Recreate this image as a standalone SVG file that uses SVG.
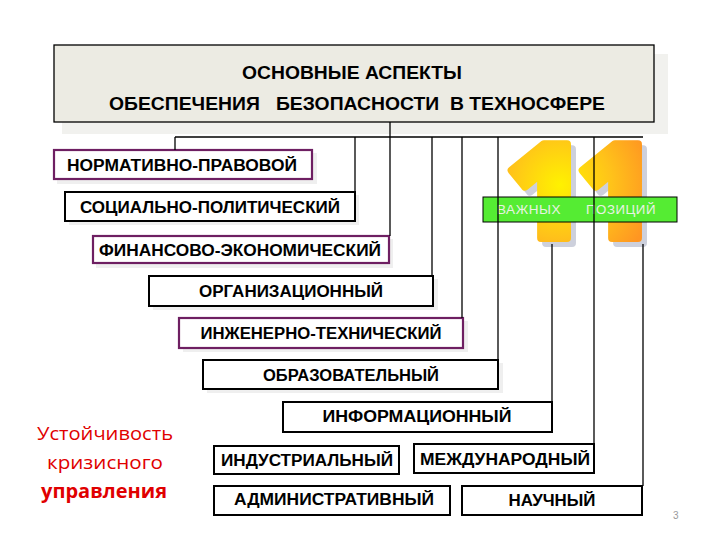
<svg xmlns="http://www.w3.org/2000/svg" width="720" height="540" viewBox="0 0 720 540">
<defs>
<radialGradient id="og" gradientUnits="userSpaceOnUse" cx="560" cy="185" r="95">
<stop offset="0" stop-color="#fff200"/>
<stop offset="0.55" stop-color="#ffc21a"/>
<stop offset="1" stop-color="#ff9522"/>
</radialGradient>
<style>
.box{fill:#ffffff;stroke:#000;stroke-width:2}
.pbox{fill:#ffffff;stroke:#6e1f62;stroke-width:2.2}
.sh{fill:#efefef}
.lbl{font-family:"Liberation Sans",Arial,sans-serif;font-weight:bold;font-size:16px;fill:#000;text-anchor:middle}
.ttl{font-family:"Liberation Sans",Arial,sans-serif;font-weight:bold;font-size:19px;fill:#000;text-anchor:middle}
.red{font-family:"Open Sans","Liberation Sans",sans-serif;font-size:19px;fill:#e00000;text-anchor:middle}
.con{stroke:#000;stroke-width:1.3;fill:none}
.one{font-family:"Open Sans","Liberation Sans",sans-serif;font-weight:800;font-size:132px;text-anchor:middle;stroke-width:8;stroke-linejoin:round}
.gt{font-family:"Liberation Sans",Arial,sans-serif;font-size:12.5px;fill:#e8f2e4;letter-spacing:0.5px}
</style>
</defs>
<rect width="720" height="540" fill="#ffffff"/>

<g id="title">
<rect x="62" y="54" width="606" height="80" fill="#f1f1ee"/>
<rect x="54" y="45" width="600" height="77" fill="#ecebe3" stroke="#000" stroke-width="1.3"/>
<text class="ttl" x="352" y="79" textLength="220" lengthAdjust="spacingAndGlyphs">ОСНОВНЫЕ АСПЕКТЫ</text>
<text class="ttl" x="357" y="110" textLength="496" lengthAdjust="spacingAndGlyphs" xml:space="preserve">ОБЕСПЕЧЕНИЯ   БЕЗОПАСНОСТИ  В ТЕХНОСФЕРЕ</text>
</g>

<g id="eleven">
<text class="one" x="550" y="243" fill="#cdd0dc" stroke="#cdd0dc">1</text>
<text class="one" x="621" y="243" fill="#cdd0dc" stroke="#cdd0dc">1</text>
<text class="one" x="545" y="238" fill="url(#og)" stroke="url(#og)">1</text>
<text class="one" x="616" y="238" fill="url(#og)" stroke="url(#og)">1</text>
</g>

<g id="banner">
<rect x="483" y="197" width="194" height="25" fill="#55ec33" stroke="#000" stroke-width="1"/>
<text class="gt" x="497" y="214" textLength="64" lengthAdjust="spacingAndGlyphs">ВАЖНЫХ</text>
<text class="gt" x="586" y="214" textLength="70" lengthAdjust="spacingAndGlyphs">ПОЗИЦИЙ</text>
</g>

<g id="n1">
<rect class="sh" x="57" y="153" width="260" height="31"/>
<rect class="pbox" x="54" y="150" width="258" height="29"/>
<text class="lbl" x="182" y="171" textLength="230" lengthAdjust="spacingAndGlyphs">НОРМАТИВНО-ПРАВОВОЙ</text>
</g>
<g id="n2">
<rect class="sh" x="69" y="195" width="290" height="30"/>
<rect class="box" x="65" y="192" width="290" height="29"/>
<text class="lbl" x="210" y="213" textLength="260" lengthAdjust="spacingAndGlyphs">СОЦИАЛЬНО-ПОЛИТИЧЕСКИЙ</text>
</g>
<g id="n3">
<rect class="sh" x="96" y="239" width="297" height="29"/>
<rect class="pbox" x="93" y="236" width="296" height="27"/>
<text class="lbl" x="240" y="256" textLength="282" lengthAdjust="spacingAndGlyphs">ФИНАНСОВО-ЭКОНОМИЧЕСКИЙ</text>
</g>
<g id="n4">
<rect class="sh" x="153" y="279" width="285" height="31"/>
<rect class="box" x="149" y="276" width="284" height="30"/>
<text class="lbl" x="291" y="297" textLength="184" lengthAdjust="spacingAndGlyphs">ОРГАНИЗАЦИОННЫЙ</text>
</g>
<g id="n5">
<rect class="sh" x="183" y="321" width="285" height="31"/>
<rect class="pbox" x="179" y="318" width="284" height="30"/>
<text class="lbl" x="321" y="339" textLength="241" lengthAdjust="spacingAndGlyphs">ИНЖЕНЕРНО-ТЕХНИЧЕСКИЙ</text>
</g>
<g id="n6">
<rect class="sh" x="207" y="363" width="296" height="30"/>
<rect class="box" x="203" y="360" width="295" height="29"/>
<text class="lbl" x="351" y="381" textLength="176" lengthAdjust="spacingAndGlyphs">ОБРАЗОВАТЕЛЬНЫЙ</text>
</g>
<g id="n7">
<rect class="box" x="283" y="402" width="269" height="30"/>
<text class="lbl" x="417" y="422" textLength="189" lengthAdjust="spacingAndGlyphs">ИНФОРМАЦИОННЫЙ</text>
</g>
<g id="n8">
<rect class="box" x="214" y="446" width="185" height="28"/>
<text class="lbl" x="307" y="466" textLength="172" lengthAdjust="spacingAndGlyphs">ИНДУСТРИАЛЬНЫЙ</text>
</g>
<g id="n9">
<rect class="box" x="414" y="444" width="180" height="29"/>
<text class="lbl" x="505" y="465" textLength="170" lengthAdjust="spacingAndGlyphs">МЕЖДУНАРОДНЫЙ</text>
</g>
<g id="n10">
<rect class="box" x="214" y="486" width="236" height="29"/>
<text class="lbl" x="334" y="505" textLength="200" lengthAdjust="spacingAndGlyphs">АДМИНИСТРАТИВНЫЙ</text>
</g>
<g id="n11">
<rect class="box" x="462" y="486" width="180" height="29"/>
<text class="lbl" x="552" y="506" textLength="87" lengthAdjust="spacingAndGlyphs">НАУЧНЫЙ</text>
</g>

<g id="connectors">
<line class="con" x1="390" y1="122" x2="390" y2="236"/>
<line class="con" x1="175" y1="137" x2="643" y2="137"/>
<line class="con" x1="175" y1="137" x2="175" y2="150"/>
<line class="con" x1="355" y1="137" x2="355" y2="192"/>
<line class="con" x1="432" y1="137" x2="432" y2="276"/>
<line class="con" x1="462" y1="137" x2="462" y2="318"/>
<line class="con" x1="498" y1="137" x2="498" y2="360"/>
<line class="con" x1="552" y1="244" x2="552" y2="402"/>
<line class="con" x1="594" y1="137" x2="594" y2="444"/>
<line class="con" x1="643" y1="244" x2="643" y2="486"/>
</g>

<g id="note">
<text class="red" x="105" y="440" textLength="136" lengthAdjust="spacingAndGlyphs">Устойчивость</text>
<text class="red" x="105" y="469" textLength="116" lengthAdjust="spacingAndGlyphs">кризисного</text>
<text class="red" x="104" y="498" font-weight="bold" textLength="126" lengthAdjust="spacingAndGlyphs">управления</text>
</g>
<text x="673" y="519" font-family="Liberation Sans,Arial,sans-serif" font-size="10" fill="#9a9a9a">3</text>
</svg>
